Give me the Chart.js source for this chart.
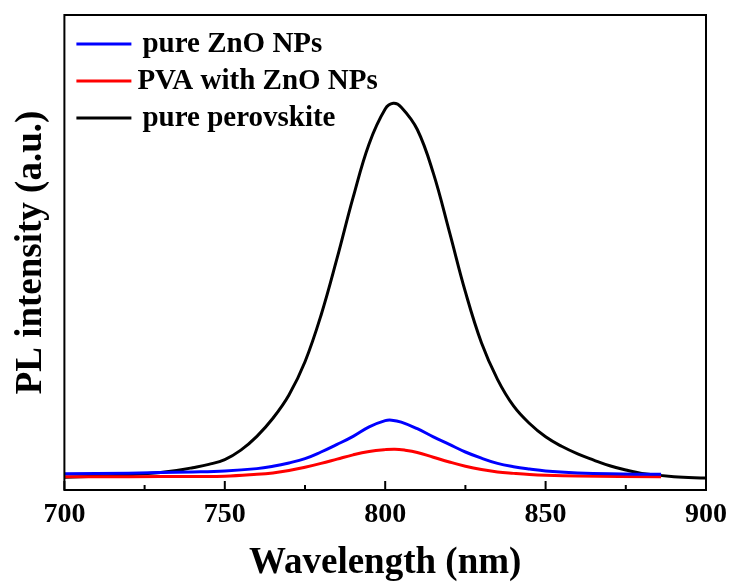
<!DOCTYPE html>
<html>
<head>
<meta charset="utf-8">
<script src="https://cdn.jsdelivr.net/npm/chart.js@4.4.1/dist/chart.umd.min.js"></script>
<style>
  body { margin: 0; background: #fff; }
  canvas { display: block; }
</style>
</head>
<body>
<canvas id="plChart" width="731" height="586"></canvas>
<script>
// values (intensity in arbitrary units, 0-100 full scale)
const perovskiteWl = [700, 710, 720, 730, 735, 740, 745, 750, 755, 760, 765, 770, 775, 780, 785, 790, 795, 800, 802.5, 805, 810, 815, 820, 825, 830, 835, 840, 845, 850, 855, 860, 865, 870, 875, 880, 890, 900];
const perovskiteInt = [2.7, 2.9, 3.2, 3.7, 4.1, 4.7, 5.4, 6.4, 8.4, 11.3, 15.1, 20.0, 27.0, 36.8, 48.8, 61.6, 72.9, 80.2, 81.4, 80.6, 75.9, 66.7, 54.4, 41.7, 31.0, 23.3, 17.7, 14.0, 11.2, 9.2, 7.6, 6.3, 5.1, 4.2, 3.5, 2.8, 2.5];

const znoWl = [700, 720, 740, 750, 760, 765, 770, 775, 780, 785, 790, 795, 800, 802, 805, 810, 815, 820, 825, 830, 835, 840, 845, 850, 860, 870, 886];
const znoInt = [3.4, 3.55, 3.8, 4.0, 4.5, 5.0, 5.7, 6.6, 8.0, 9.6, 11.3, 13.3, 14.6, 14.7, 14.3, 12.9, 11.2, 9.6, 8.0, 6.7, 5.6, 4.9, 4.4, 4.0, 3.6, 3.4, 3.3];

const pvaWl = [700, 720, 740, 750, 760, 765, 770, 775, 780, 785, 790, 795, 800, 803, 806, 810, 815, 820, 825, 830, 835, 840, 845, 850, 860, 886];
const pvaInt = [2.8, 2.8, 2.85, 2.9, 3.3, 3.6, 4.1, 4.8, 5.6, 6.5, 7.4, 8.1, 8.5, 8.6, 8.4, 7.9, 6.9, 5.9, 5.0, 4.3, 3.8, 3.5, 3.25, 3.1, 2.95, 2.8];

const majorTicks = [700, 750, 800, 850, 900];
const minorTicks = [725, 775, 825, 875];

const seriesLabels = ["pure ZnO NPs", "PVA with ZnO NPs", "pure perovskite"];
const seriesColors = ["#0000ff", "#ff0000", "#000000"];

const serif = "'Liberation Serif', 'Times New Roman', serif";

function toPoints(xs, ys) {
  return xs.map((x, i) => ({ x: x, y: ys[i] }));
}

// frame, inward ticks and the in-plot legend
const framePlugin = {
  id: "frame",
  afterDatasetsDraw(chart) {
    const { ctx, chartArea: a, scales } = chart;
    ctx.save();
    ctx.strokeStyle = "#000";
    ctx.lineWidth = 2;
    ctx.strokeRect(a.left, a.top, a.right - a.left, a.bottom - a.top);

    ctx.beginPath();
    majorTicks.forEach(v => {
      const px = scales.x.getPixelForValue(v);
      ctx.moveTo(px, a.bottom);
      ctx.lineTo(px, a.bottom - 9);
    });
    minorTicks.forEach(v => {
      const px = scales.x.getPixelForValue(v);
      ctx.moveTo(px, a.bottom);
      ctx.lineTo(px, a.bottom - 5);
    });
    ctx.stroke();

    ctx.font = "bold 29px " + serif;
    ctx.textBaseline = "middle";
    ctx.textAlign = "left";
    chart.data.datasets.forEach((ds, i) => {
      const y = a.top + 29 + i * 37;
      ctx.strokeStyle = ds.borderColor;
      ctx.lineWidth = 3;
      ctx.beginPath();
      ctx.moveTo(a.left + 12, y);
      ctx.lineTo(a.left + 67, y);
      ctx.stroke();
      ctx.fillStyle = "#000";
      ctx.fillText(ds.label, a.left + (i === 1 ? 73 : 78), y + 1);
    });
    ctx.restore();
  }
};

new Chart(document.getElementById("plChart").getContext("2d"), {
  type: "line",
  data: {
    datasets: [
      { label: seriesLabels[0], data: toPoints(znoWl, znoInt), borderColor: seriesColors[0] },
      { label: seriesLabels[1], data: toPoints(pvaWl, pvaInt), borderColor: seriesColors[1] },
      { label: seriesLabels[2], data: toPoints(perovskiteWl, perovskiteInt), borderColor: seriesColors[2] }
    ]
  },
  options: {
    responsive: false,
    animation: false,
    layout: { padding: { left: 0, right: 25, top: 15, bottom: 0 } },
    elements: {
      line: { borderWidth: 3, tension: 0.4, fill: false },
      point: { radius: 0 }
    },
    plugins: {
      legend: { display: false },
      tooltip: { enabled: false }
    },
    scales: {
      x: {
        type: "linear",
        min: 700,
        max: 900,
        afterBuildTicks: scale => { scale.ticks = majorTicks.map(v => ({ value: v })); },
        afterFit: scale => { scale.paddingRight = 0; scale.paddingLeft = 0; },
        grid: { display: false, drawTicks: false },
        border: { display: false },
        ticks: { color: "#000", padding: 8, font: { family: serif, size: 28, weight: "bold" } },
        title: {
          display: true,
          text: "Wavelength (nm)",
          color: "#000",
          padding: { top: 2, bottom: 0 },
          font: { family: serif, size: 37, weight: "bold" }
        }
      },
      y: {
        min: 0,
        max: 100,
        grid: { display: false, drawTicks: false },
        border: { display: false },
        ticks: { display: false },
        title: {
          display: true,
          text: "PL intensity (a.u.)",
          color: "#000",
          padding: { top: 9, bottom: 11 },
          font: { family: serif, size: 37, weight: "bold" }
        }
      }
    }
  },
  plugins: [framePlugin]
});
</script>
</body>
</html>
